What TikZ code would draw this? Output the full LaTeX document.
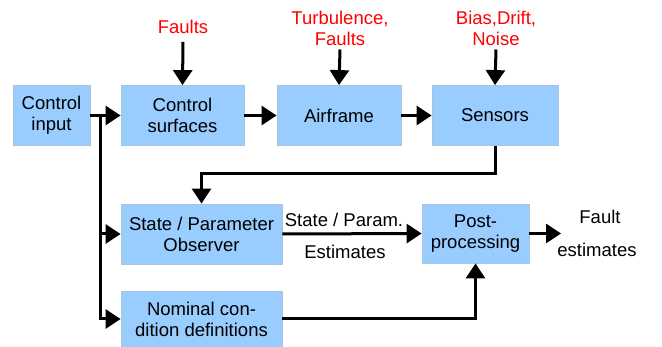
\documentclass[tikz,border=0pt]{standalone}
\usepackage{fontspec}
\setmainfont{Liberation Sans}
\usetikzlibrary{arrows.meta}
\definecolor{boxfill}{HTML}{99CCFF}
\definecolor{boxline}{HTML}{A9C4DC}
\definecolor{faultred}{HTML}{FF0000}
\tikzset{
  blk/.style={draw=boxline, line width=0.8pt, fill=boxfill, rectangle, align=center,
    inner sep=0pt, font=\fontsize{18.5}{21}\selectfont},
  txt/.style={align=center, inner sep=0pt, font=\fontsize{18.5}{21}\selectfont},
  redtxt/.style={txt, text=faultred},
  arr/.style={line width=3pt, -{Triangle[length=15pt,width=19pt]}},
  ln/.style={line width=3pt}
}
\begin{document}
\begin{tikzpicture}[x=1pt,y=-1pt]
\useasboundingbox (0,0) rectangle (662,347);

% signal chain
\node[blk, minimum width=77pt, minimum height=60pt] (ci) at (51.5,115.5) {Control\\input};
\node[blk, minimum width=123pt, minimum height=60pt] (cs) at (182.5,115.5) {Control\\surfaces};
\node[blk, minimum width=124pt, minimum height=60pt] (af) at (339,115.5) {Airframe};
\node[blk, minimum width=126pt, minimum height=60pt] (se) at (495,115.5) {Sensors};

% estimation chain
\node[blk, minimum width=161pt, minimum height=60pt] (ob) at (201.5,234) {State / Parameter\\Observer};
\node[blk, minimum width=107pt, minimum height=59pt] (pp) at (475.5,233.5) {Post-\\processing};
\node[blk, minimum width=161pt, minimum height=56pt] (nc) at (201.5,319) {Nominal con-\\dition definitions};

% disturbance labels
\node[redtxt] (f1) at (183,27) {Faults};
\node[redtxt] (f2) at (340,28) {Turbulence,\\Faults};
\node[redtxt] (f3) at (496,28) {Bias,Drift,\\Noise};

% output labels
\node[txt] (sp) at (344,220) {State / Param.};
\node[txt] (es) at (345,252) {Estimates};
\node[txt] (fl) at (600,217) {Fault};
\node[txt] (fe) at (597,250) {estimates};

\coordinate (j) at (100,115.5);
\coordinate (out) at (561,233.5);
\coordinate (tap) at (495,174);

% connectors
\draw[arr] (f1.south) ++(0,8) -- (cs.north);
\draw[arr] (f2.south) ++(0,4) -- (af.north);
\draw[arr] (f3.south) ++(0,4) -- (se.north);
\draw[arr] (ci.east) -- (cs.west);
\draw[arr] (cs.east) -- (af.west);
\draw[arr] (af.east) -- (se.west);
\draw[ln] (j) -- (100,320);
\draw[arr] (j) |- (ob.west);
\draw[arr] (j) |- (nc.west);
\draw[arr] (se.south) -- (tap) -| (ob.north);
\draw[arr] (ob.east) -- (pp.west);
\draw[arr] (pp.east) -- (out);
\draw[arr] (nc.east) -| (pp.south);
\end{tikzpicture}
\end{document}
